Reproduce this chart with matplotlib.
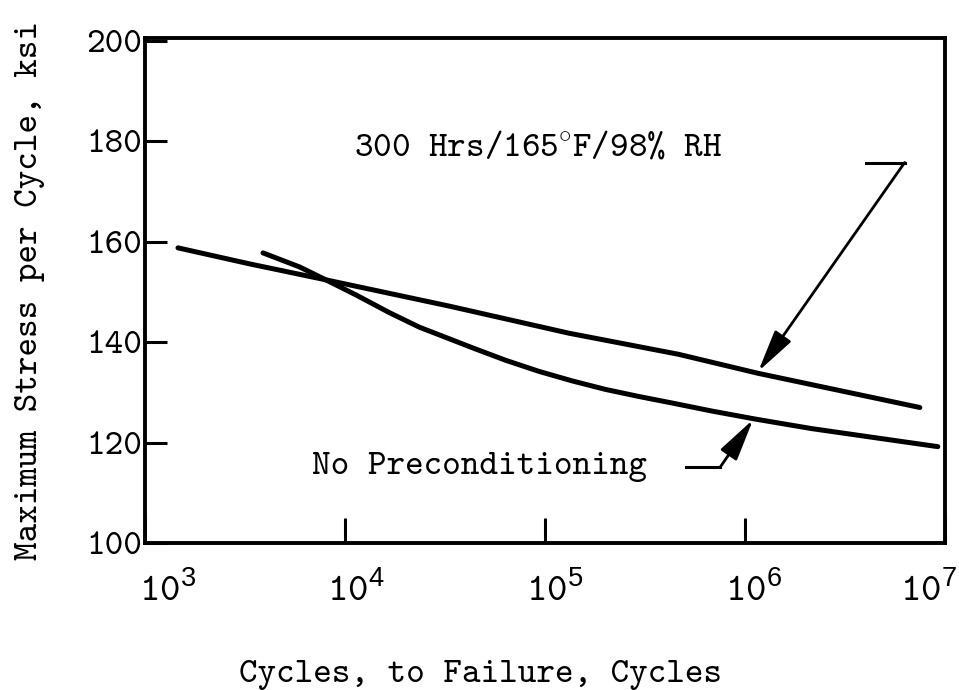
import numpy as np
import matplotlib
matplotlib.use('Agg')
import matplotlib.pyplot as plt
from matplotlib.transforms import ScaledTranslation

plt.rcParams['font.family'] = ['cmtt10', 'DejaVu Sans']
plt.rcParams['font.size'] = 25.5
plt.rcParams['mathtext.fontset'] = 'custom'
plt.rcParams['mathtext.rm'] = 'cmtt10'
plt.rcParams['mathtext.tt'] = 'cmtt10'
plt.rcParams['mathtext.sf'] = 'Liberation Sans'

# 300 Hrs/165F/98% RH curve
cyc_wet = [1462, 3342, 8091, 33190, 131800, 465600, 1167000, 7500000]
sig_wet = [158.8, 155.6, 152.4, 147.2, 141.8, 137.6, 133.8, 127.0]

# no preconditioning curve
cyc_dry = [3890, 5929, 8054, 11380, 16670, 23550, 33190, 43350, 63680, 93330,
           136800, 200900, 294400, 431500, 682300, 1125000, 2153000, 4634000, 9226000]
sig_dry = [157.8, 155.0, 152.4, 149.4, 145.9, 143.0, 140.7, 138.9, 136.4, 134.2,
           132.3, 130.6, 129.2, 127.9, 126.3, 124.7, 122.8, 120.9, 119.2]

xticks = [1e3, 1e4, 1e5, 1e6, 1e7]
xlabels = [r'$\mathtt{10}^{\mathsf{%d}}$' % e for e in [3, 4, 5, 6, 7]]
xlabel_dx = [23, 11, 10, 9, -16]  # px shift of each label
yticks = [100, 120, 140, 160, 180, 200]
ylabels = [str(v) for v in yticks]

# leader lines: (start, corner, tip)
lead_wet = [(4.04e6, 175.8), (6.3e6, 175.8), (1.167e6, 134.2)]
lead_dry = [(5.1e5, 115.2), (7.55e5, 115.2), (1.10e6, 124.6)]

fig = plt.figure(figsize=(9.59, 6.90), dpi=100)
ax = fig.add_axes([0.1512, 0.2130, 0.834, 0.7319])

ax.plot(cyc_wet, sig_wet, color='black', lw=3.6, solid_capstyle='round')
ax.plot(cyc_dry, sig_dry, color='black', lw=3.6, solid_capstyle='round')

for lead in [lead_wet, lead_dry]:
    ax.plot([lead[0][0], lead[1][0]], [lead[0][1], lead[1][1]], color='black', lw=2.2)
    ax.annotate('', xy=lead[2], xytext=lead[1],
                arrowprops=dict(arrowstyle='-|>,head_length=1.3,head_width=0.3',
                                color='black', lw=2.0, mutation_scale=20,
                                shrinkA=0, shrinkB=0))

ax.text(9.2e4, 178.8, r'300 Hrs/165$^{\circ}$F/98% RH', ha='center', va='center')
ax.text(4.7e4, 115.2, 'No Preconditioning', ha='center', va='center')

ax.set_xscale('log')
ax.set_xlim(1e3, 1e7)
ax.set_ylim(100, 200.6)
ax.set_xticks(xticks)
ax.set_xticklabels(xlabels, fontsize=28)
ax.minorticks_off()
ax.set_yticks(yticks)
ax.set_yticklabels(ylabels)
ax.tick_params(axis='x', direction='in', length=18, width=2.2, pad=21)
ax.tick_params(axis='y', direction='in', length=16, width=2.2, pad=2)
for s in ax.spines.values():
    s.set_linewidth(2.8)

for lbl, dx in zip(ax.get_xticklabels(), xlabel_dx):
    lbl.set_transform(lbl.get_transform() + ScaledTranslation(dx / 100, 0, fig.dpi_scale_trans))

ax.set_xlabel('Cycles, to Failure, Cycles')
ax.set_ylabel('Maximum Stress per Cycle, ksi')
ax.xaxis.set_label_coords(0.419, -0.232)
ax.yaxis.set_label_coords(-0.125, 0.50)

fig.savefig('out.png', dpi=100)
